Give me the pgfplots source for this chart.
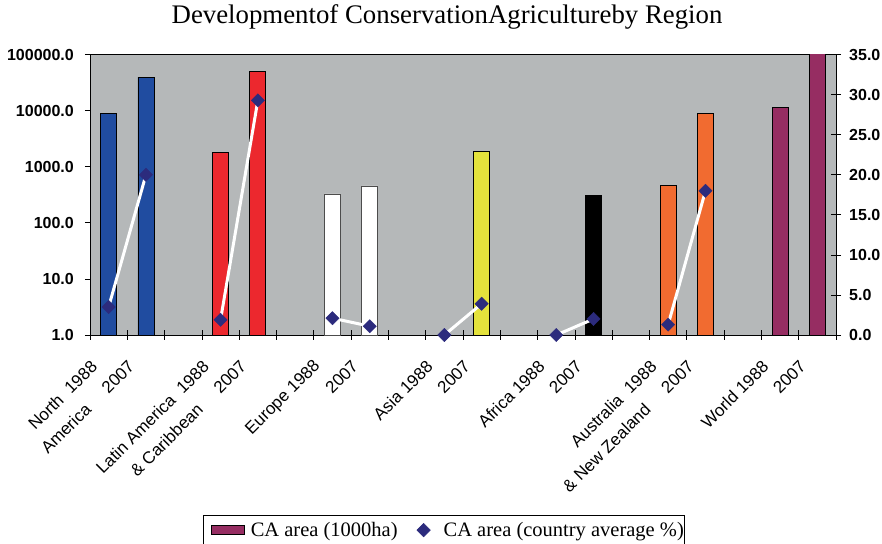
\documentclass[border=0pt]{standalone}
\usepackage{pgfplots}
\pgfplotsset{compat=1.18}
\usepackage{fontspec}
\setmainfont{Liberation Serif}
\setsansfont{Liberation Sans}
\definecolor{plotgray}{RGB}{181,184,185}
\definecolor{cablue}{RGB}{32,76,160}
\definecolor{cared}{RGB}{236,40,46}
\definecolor{cayellow}{RGB}{228,226,60}
\definecolor{caorange}{RGB}{241,107,48}
\definecolor{capurple}{RGB}{150,45,98}
\definecolor{canavy}{RGB}{44,43,125}
\pgfplotsset{diamond legend/.style={legend image code/.code={\path[draw=none,fill=none] (0pt,0pt) -- (46pt,0pt);
    \draw[##1] plot coordinates {(26pt,0pt)};}}}

\begin{document}
\begin{tikzpicture}
\begin{axis}[
  name=ax,
  width=746pt, height=280.3pt, scale only axis,
  xmin=-0.5, xmax=19.5,
  ymode=log, ymin=1, ymax=100000,
  axis background/.style={fill=plotgray},
  axis line style={black, line width=0.8pt},
  tick pos=left, tick align=outside, major tick length=5pt,
  ytick={1,10,100,1000,10000,100000},
  yticklabels={1.0,10.0,100.0,1000.0,10000.0,100000.0},
  minor y tick style={draw=none},
  major y tick style={black, line width=0.8pt},
  yticklabel style={font=\sffamily\bfseries\fontsize{16}{19}\selectfont, inner sep=0pt, xshift=-11pt},
  xtick={0,...,19},
  xticklabels={North\ \ 1988,2007,,Latin America\ \ 1988,2007,,Europe 1988,2007,,Asia 1988,2007,,Africa 1988,2007,,Australia\ \ 1988,2007,,World 1988,2007},
  major x tick style={draw=none},
  minor xtick={-0.5,0.5,...,19.5},
  minor tick length=10pt,
  minor x tick style={black, line width=0.8pt, yshift=5pt},
  xticklabel style={font=\sffamily\fontsize{17}{20}\selectfont, inner sep=0pt, anchor=east, rotate=45, xshift=-27pt, yshift=-6.4pt},
  extra x ticks={0,3,15},
  extra x tick labels={America,\& Caribbean,\& New Zealand},
  extra x tick style={xticklabel style={xshift=-34.5pt, yshift=-26.1pt}},
  title={Developmentof ConservationAgricultureby Region},
  title style={at={(0.4786,1)}, anchor=base, yshift=25.5pt, font=\fontsize{26.8}{30}\selectfont},
]
% CA area (1000 ha), one plot per region
\addplot[ybar, bar width=16pt, fill=cablue, draw=black, line width=0.8pt] coordinates {(0,9000) (1,40000)};
\addplot[ybar, bar width=16pt, fill=cared, draw=black, line width=0.8pt] coordinates {(3,1800) (4,50000)};
\addplot[ybar, bar width=16pt, fill=white, draw=black!70, line width=0.8pt] coordinates {(6,328) (7,455)};
\addplot[ybar, bar width=16pt, fill=cayellow, draw=black, line width=0.8pt] coordinates {(10,1915)};
\addplot[ybar, bar width=16pt, fill=black, draw=black, line width=0.8pt] coordinates {(13,305)};
\addplot[ybar, bar width=16pt, fill=caorange, draw=black, line width=0.8pt] coordinates {(15,468) (16,9000)};
\addplot[ybar, bar width=16pt, fill=capurple, draw=black, line width=0.8pt] coordinates {(18,11350) (19,105000)};
\end{axis}

\begin{axis}[
  width=746pt, height=280.3pt, scale only axis,
  xmin=-0.5, xmax=19.5, ymin=0, ymax=35,
  axis x line=none, axis y line*=right,
  axis line style={black, line width=0.8pt},
  tick align=center, major tick length=10pt,
  ytick={0,5,...,35},
  yticklabels={0.0,5.0,10.0,15.0,20.0,25.0,30.0,35.0},
  major y tick style={black, line width=0.8pt},
  yticklabel style={font=\sffamily\bfseries\fontsize{16}{19}\selectfont, inner sep=0pt, xshift=8pt},
  clip=false,
  legend style={at={(0.474,-0.642)}, anchor=north, draw=black, line width=0.6pt,
    font=\fontsize{20.5}{24}\selectfont, legend columns=2,
    inner xsep=0pt, inner ysep=7pt, nodes={inner sep=0pt},
    /tikz/column sep=0pt},
  legend cell align=left,
]
\addlegendimage{legend image code/.code={\path[draw=none,fill=none] (0pt,0pt) -- (41pt,0pt);
  \draw[fill=capurple, draw=black, line width=0.8pt] (8pt,-4.7pt) rectangle (41pt,4.7pt);}}
\addlegendentry{\hspace{6pt}CA area (1000ha)}
% CA area (country average %)
\addplot[white, line width=3pt, forget plot, unbounded coords=jump] coordinates {
  (0,3.5) (1,20.0) (2,nan) (3,1.9) (4,29.3) (5,nan) (6,2.1) (7,1.1) (8,nan)
  (9,0) (10,3.9) (11,nan) (12,0) (13,2.0) (14,nan) (15,1.3) (16,18.0)};
\addplot[only marks, mark=square*, mark size=4.7pt, mark options={rotate=45, fill=canavy, draw=canavy},
  diamond legend] coordinates {
  (0,3.5) (1,20.0) (3,1.9) (4,29.3) (6,2.1) (7,1.1)
  (9,0) (10,3.9) (12,0) (13,2.0) (15,1.3) (16,18.0)};
\addlegendentry{CA area (country average \%)\hspace{4pt}}
\end{axis}
\pgfresetboundingbox
\path[use as bounding box] ([shift={(-90pt,-208pt)}]ax.south west) rectangle ([shift={(46pt,54.7pt)}]ax.north east);
\end{tikzpicture}
\end{document}
